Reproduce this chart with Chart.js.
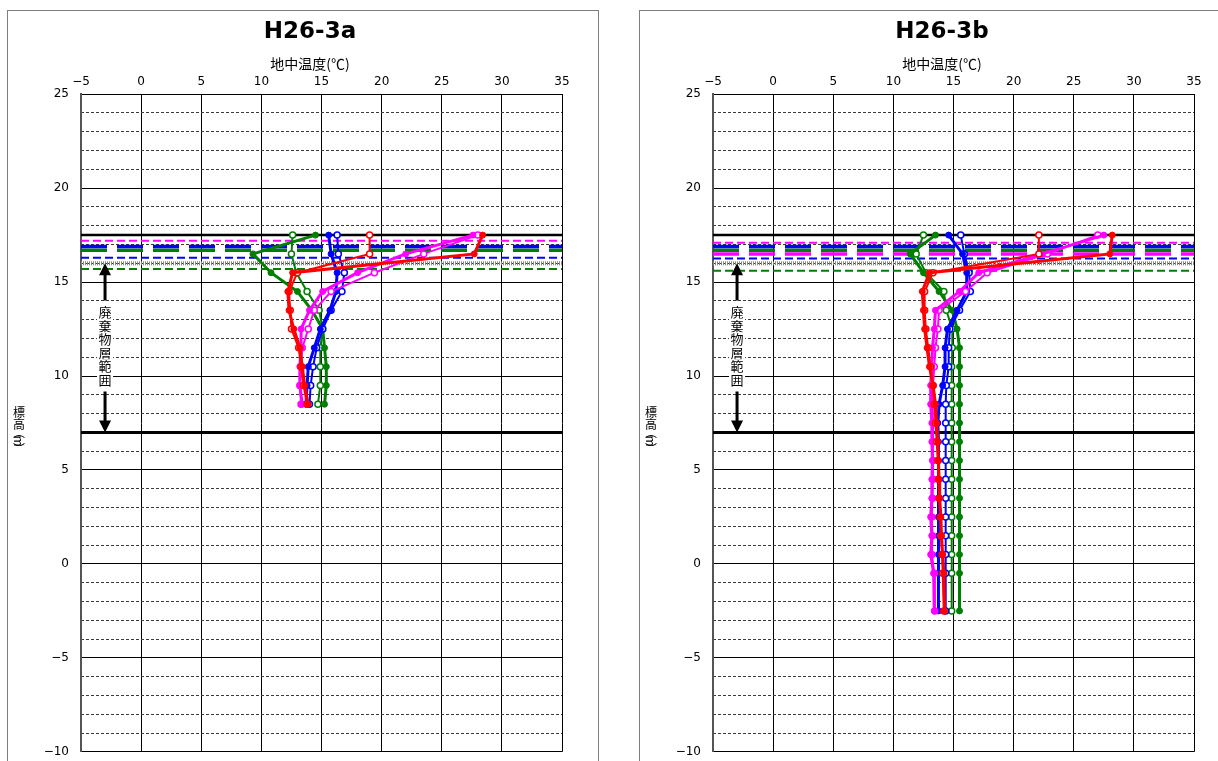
<!DOCTYPE html>
<html lang="ja">
<head>
<meta charset="utf-8">
<title>H26-3 地中温度</title>
<script src="https://cdn.jsdelivr.net/npm/chart.js@4.4.1/dist/chart.umd.min.js"></script>
<style>
  html, body { margin: 0; padding: 0; background: #fff; overflow: hidden; }
  .panel { position: absolute; top: 11px; outline: 1px solid #7f7f7f; }
  #chartA { left: 8px; }
  #chartB { left: 640px; }
</style>
</head>
<body>
<canvas id="chartA" class="panel" width="590" height="760"></canvas>
<canvas id="chartB" class="panel" width="590" height="760"></canvas>
<script>
// axis ticks
const tempTicks = [-5, 0, 5, 10, 15, 20, 25, 30, 35];
const elevTicks = [25, 20, 15, 10, 5, 0, -5, -10];

// H26-3a : elevation of each sensor (m) and temperature (deg C)
const depthsA = [17.5, 16.5, 15.5, 14.5, 13.5, 12.5, 11.5, 10.5, 9.5, 8.5];
const redFilledA     = [28.4, 27.7, 12.6, 12.2, 12.3, 12.7, 13.2, 13.4, 13.6, 13.9];
const redOpenA       = [19.0, 19.0, 13.0, 12.3, 12.4, 12.5, 13.1, 13.3, 13.5, 13.8];
const magentaFilledA = [27.6, 22.0, 18.0, 15.1, 14.0, 13.3, 13.3, 13.2, 13.2, 13.4];
const magentaOpenA   = [28.0, 23.5, 19.4, 15.8, 14.4, 13.9, 13.4, 13.3, 13.2, 13.3];
const blueFilledA    = [15.6, 15.8, 16.3, 16.2, 15.7, 14.9, 14.4, 13.9, 13.8, 13.7];
const blueOpenA      = [16.3, 16.4, 16.9, 16.7, 15.8, 15.1, 14.6, 14.3, 14.1, 14.0];
const greenFilledA   = [14.5, 9.3, 10.8, 13.0, 14.2, 15.1, 15.25, 15.4, 15.4, 15.25];
const greenOpenA     = [12.6, 12.5, 12.9, 13.8, 14.8, 15.1, 14.9, 14.9, 14.9, 14.7];

// H26-3b
const depthsB = [17.5, 16.5, 15.5, 14.5, 13.5, 12.5, 11.5, 10.5, 9.5, 8.5, 7.5, 6.5, 5.5, 4.5, 3.5, 2.5, 1.5, 0.5, -0.5, -2.5];
const redFilledB     = [28.2, 28.0, 13.0, 12.4, 12.5, 12.6, 12.8, 13.0, 13.3, 13.5, 13.6, 13.7, 13.75, 13.8, 13.85, 13.95, 14.0, 14.1, 14.2, 14.25];
const redOpenB       = [22.1, 22.1, 13.3, 12.6, 12.6, 12.7, 12.9, 13.1, 13.3, 13.4, 13.5, 13.6, 13.7, 13.75, 13.8, 13.9, 13.95, 14.05, 14.1, 14.2];
const magentaFilledB = [27.5, 22.4, 17.1, 15.5, 13.5, 13.4, 13.25, 13.2, 13.1, 13.1, 13.2, 13.2, 13.25, 13.2, 13.2, 13.1, 13.2, 13.1, 13.35, 13.4];
const magentaOpenB   = [27.0, 22.8, 17.8, 16.0, 13.8, 13.7, 13.5, 13.4, 13.3, 13.25, 13.3, 13.3, 13.3, 13.3, 13.25, 13.2, 13.25, 13.2, 13.4, 13.45];
const blueFilledB    = [14.6, 15.75, 16.1, 16.1, 15.3, 14.5, 14.3, 14.3, 14.1, 13.8, 13.7, 13.75, 13.75, 13.75, 13.75, 13.75, 13.75, 13.75, 13.75, 13.75];
const blueOpenB      = [15.6, 15.9, 16.3, 16.4, 15.5, 14.7, 14.6, 14.6, 14.4, 14.35, 14.35, 14.35, 14.35, 14.35, 14.35, 14.35, 14.35, 14.35, 14.35, 14.35];
const greenFilledB   = [13.5, 11.4, 12.5, 13.8, 14.9, 15.3, 15.5, 15.5, 15.5, 15.5, 15.5, 15.5, 15.5, 15.5, 15.5, 15.5, 15.5, 15.5, 15.5, 15.5];
const greenOpenB     = [12.5, 11.9, 12.7, 14.2, 14.4, 14.9, 14.9, 14.85, 14.85, 14.85, 14.85, 14.85, 14.85, 14.85, 14.85, 14.85, 14.85, 14.85, 14.85, 14.85];

// horizontal levels (m)
const groundTop = 17.5;
const wasteTop = 16.0;
const wasteBottom = 7.0;
const levelsA = { magenta: 17.2, blueWide: 16.9, greenWide: 16.7, blue: 16.3, green: 15.7 };
const levelsB = { magenta: 17.1, blueWide: 16.9, greenWide: 16.7, magentaWide: 16.5, blue: 16.25, green: 15.6 };

// waste layer arrow
const arrowX = -3;
const wasteLabel = '廃棄物層範囲';
const wasteLabelAt = 11.6;

const RED = '#ff0000', MAGENTA = '#ff00ff', BLUE = '#0000ff', GREEN = '#008000';

const xMin = tempTicks[0], xMax = tempTicks[tempTicks.length - 1];
const yMin = elevTicks[elevTicks.length - 1], yMax = elevTicks[0];

const toPoints = (temps, depths) => temps.map((t, i) => ({ x: t, y: depths[i] }));
const minus = v => String(v).replace('-', '\u2212');

function profile(label, temps, depths, color, open) {
    return {
        label: label,
        data: toPoints(temps, depths),
        showLine: true,
        borderColor: color,
        backgroundColor: color,
        borderWidth: open ? 2 : 3,
        pointRadius: 3,
        pointBorderWidth: open ? 1.5 : 1,
        pointBackgroundColor: open ? '#fff' : color,
        pointBorderColor: color
    };
}

function levelLine(v, color, width, dash) {
    return {
        label: 'level ' + v,
        data: [{ x: xMin, y: v }, { x: xMax, y: v }],
        showLine: true,
        borderColor: color,
        borderWidth: width,
        borderDash: dash,
        pointRadius: 0,
        order: 5
    };
}

function levelSet(lv) {
    const sets = [
        levelLine(groundTop, '#000', 2.5, []),
        levelLine(lv.magenta, MAGENTA, 2, [8, 4]),
        levelLine(lv.blueWide, BLUE, 3.5, [26, 10]),
        levelLine(lv.greenWide, GREEN, 3.5, [26, 10]),
        levelLine(lv.blue, BLUE, 2, [8, 4]),
        levelLine(wasteTop, '#8a8a8a', 4, [1, 1]),
        levelLine(lv.green, GREEN, 2, [8, 4]),
        levelLine(wasteBottom, '#000', 3, [])
    ];
    if (lv.magentaWide !== undefined) {
        sets.push(levelLine(lv.magentaWide, MAGENTA, 3.5, [26, 10]));
    }
    return sets;
}

// y axis title and the waste layer arrow
const sideNotes = {
    id: 'sideNotes',
    afterDatasetsDraw(chart) {
        const { ctx, chartArea, scales: { x, y } } = chart;
        ctx.save();

        const ax = x.getPixelForValue(arrowX);
        const yTop = y.getPixelForValue(wasteTop);
        const yBot = y.getPixelForValue(wasteBottom);
        const yMid = y.getPixelForValue(wasteLabelAt);
        const step = 13.5;
        const half = wasteLabel.length * step / 2;

        ctx.strokeStyle = '#000';
        ctx.fillStyle = '#000';
        ctx.lineWidth = 3;
        ctx.beginPath();
        ctx.moveTo(ax, yTop + 10);
        ctx.lineTo(ax, yMid - half - 5);
        ctx.moveTo(ax, yMid + half + 5);
        ctx.lineTo(ax, yBot - 10);
        ctx.stroke();

        ctx.beginPath();
        ctx.moveTo(ax, yTop);
        ctx.lineTo(ax - 6, yTop + 12);
        ctx.lineTo(ax + 6, yTop + 12);
        ctx.closePath();
        ctx.moveTo(ax, yBot);
        ctx.lineTo(ax - 6, yBot - 12);
        ctx.lineTo(ax + 6, yBot - 12);
        ctx.closePath();
        ctx.fill();

        ctx.font = '13px "Noto Sans CJK JP"';
        ctx.textAlign = 'center';
        ctx.textBaseline = 'middle';
        [...wasteLabel].forEach((ch, i) => {
            const cy = yMid - half + step * (i + 0.5);
            ctx.fillStyle = '#fff';
            ctx.fillRect(ax - 8, cy - 7, 16, 14);
            ctx.fillStyle = '#000';
            ctx.fillText(ch, ax, cy);
        });

        // stacked vertical title 標高(m)
        const tx = 11;
        const mid = (chartArea.top + chartArea.bottom) / 2;
        ctx.font = '12px "Noto Sans CJK JP"';
        ctx.fillText('標', tx, mid - 11);
        ctx.fillText('高', tx, mid + 1);
        ctx.fillText('︵', tx, mid + 9);
        ctx.save();
        ctx.translate(tx, mid + 18);
        ctx.rotate(Math.PI / 2);
        ctx.fillText('m', 0, 0);
        ctx.restore();
        ctx.fillText('︶', tx, mid + 26);

        ctx.restore();
    }
};

function makeChart(id, title, datasets) {
    return new Chart(document.getElementById(id), {
        type: 'scatter',
        data: { datasets: datasets },
        options: {
            responsive: false,
            animation: false,
            // uneven side padding + an empty right axis keep the titles where the sheet has them
            layout: { padding: { left: 30, right: 16, top: 0, bottom: 17 } },
            plugins: {
                legend: { display: false },
                tooltip: { enabled: false },
                title: {
                    display: true,
                    text: title,
                    color: '#000',
                    font: { family: 'DejaVu Sans', size: 23, weight: 'bold' },
                    padding: { top: 7, bottom: 10 }
                },
                subtitle: {
                    display: true,
                    text: '地中温度(℃)',
                    color: '#000',
                    font: { family: 'Noto Sans CJK JP', size: 14 },
                    padding: 0
                }
            },
            scales: {
                x: {
                    type: 'linear',
                    position: 'top',
                    min: xMin,
                    max: xMax,
                    afterFit: s => { s.height = 21.8; },
                    ticks: {
                        stepSize: 5,
                        padding: 5,
                        color: '#000',
                        font: { family: 'DejaVu Sans', size: 12 },
                        callback: v => minus(v)
                    },
                    grid: { color: '#000', lineWidth: 1, drawTicks: false },
                    border: { color: '#000', width: 1 }
                },
                y: {
                    type: 'linear',
                    position: 'left',
                    min: yMin,
                    max: yMax,
                    afterFit: s => { s.width = 43; },
                    ticks: {
                        stepSize: 5,
                        padding: 12,
                        color: '#000',
                        font: { family: 'DejaVu Sans', size: 12 },
                        callback: v => minus(v)
                    },
                    grid: { color: '#000', lineWidth: 1, drawTicks: false },
                    border: { color: '#555', width: 2 }
                },
                yMinor: {
                    type: 'linear',
                    position: 'left',
                    min: yMin,
                    max: yMax,
                    afterFit: s => { s.width = 0; },
                    ticks: { display: false, stepSize: 1 },
                    grid: {
                        drawTicks: false,
                        lineWidth: 1,
                        color: c => (c.tick && c.tick.value % 5 === 0) ? 'rgba(0,0,0,0)' : '#3a3a3a'
                    },
                    border: { display: false, dash: [3, 2] }
                },
                ySpacer: {
                    type: 'linear',
                    position: 'right',
                    min: yMin,
                    max: yMax,
                    afterFit: s => { s.width = 20; },
                    ticks: { display: false },
                    grid: { display: false, drawTicks: false },
                    border: { display: false }
                }
            }
        },
        plugins: [sideNotes]
    });
}

const seriesA = [
    profile('赤●', redFilledA, depthsA, RED, false),
    profile('赤○', redOpenA, depthsA, RED, true),
    profile('桃●', magentaFilledA, depthsA, MAGENTA, false),
    profile('桃○', magentaOpenA, depthsA, MAGENTA, true),
    profile('青●', blueFilledA, depthsA, BLUE, false),
    profile('青○', blueOpenA, depthsA, BLUE, true),
    profile('緑●', greenFilledA, depthsA, GREEN, false),
    profile('緑○', greenOpenA, depthsA, GREEN, true)
];

const seriesB = [
    profile('赤●', redFilledB, depthsB, RED, false),
    profile('赤○', redOpenB, depthsB, RED, true),
    profile('桃●', magentaFilledB, depthsB, MAGENTA, false),
    profile('桃○', magentaOpenB, depthsB, MAGENTA, true),
    profile('青●', blueFilledB, depthsB, BLUE, false),
    profile('青○', blueOpenB, depthsB, BLUE, true),
    profile('緑●', greenFilledB, depthsB, GREEN, false),
    profile('緑○', greenOpenB, depthsB, GREEN, true)
];

makeChart('chartA', 'H26-3a', seriesA.concat(levelSet(levelsA)));
makeChart('chartB', 'H26-3b', seriesB.concat(levelSet(levelsB)));
</script>
</body>
</html>
